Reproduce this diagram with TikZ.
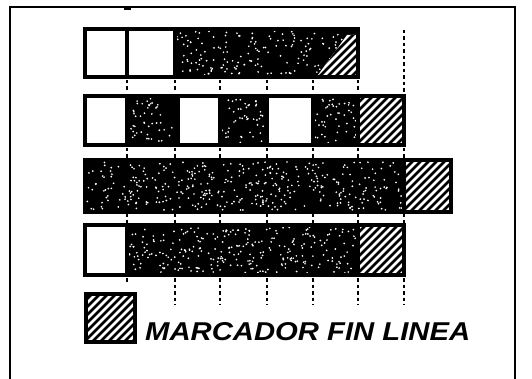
\documentclass[tikz,border=0pt]{standalone}
\usepackage{fontspec}
\setsansfont{Liberation Sans}
\begin{document}
\begin{tikzpicture}[x=1pt,y=-1pt,
  frame/.style={draw=black,line width=2.2pt},
  whitecell/.style={draw=black,line width=3.2pt,fill=white},
  darkcell/.style={draw=black,line width=3.2pt,fill=black},
  outline/.style={draw=black,line width=3.2pt},
  stripe/.style={draw=black,line width=2.8pt},
  tickmark/.style={draw=black,line width=2pt,dash pattern=on 3.5pt off 3pt},
  legendtext/.style={inner sep=0pt,anchor=base west}]
\useasboundingbox (0,0) rectangle (532,379);
\newcommand{\stip}[5]{%
  \foreach \k in {1,...,#5}{%
    \pgfmathsetmacro{\xx}{#1+2+rnd*(#3-#1-4)}%
    \pgfmathsetmacro{\yy}{#2+2+rnd*(#4-#2-4)}%
    \fill[white] (\xx,\yy) circle (0.95pt);}}
\newcommand{\hatchbox}[4]{%
  \fill[white] (#1,#2) rectangle (#3,#4);
  \begin{scope}
    \clip (#1,#2) rectangle (#3,#4);
    \foreach \d in {-60,-52,...,60}{\draw[stripe] (#1+\d,#4+2) -- (#1+\d+60,#4-58);}
  \end{scope}
  \draw[outline] (#1,#2) rectangle (#3,#4);}
\pgfmathsetseed{7}
% frame
\draw[frame] (10,379) -- (10,7) -- (515,7) -- (515,379);
\draw[line width=1.5pt] (124,9) -- (131,9);
% row 1
\path[darkcell] (175,29) rectangle (358,77);
\stip{175}{29}{358}{77}{170}
\fill[white] (318,75) -- (347,35) -- (356,35) -- (356,75) -- cycle;
\begin{scope}
  \clip (318,75) -- (347,35) -- (356,35) -- (356,75) -- cycle;
  \foreach \d in {-60,-52,...,60}{\draw[stripe] (313+\d,79) -- (313+\d+60,19);}
\end{scope}
\path[whitecell] (85,29) rectangle (127,77);
\path[whitecell] (127,29) rectangle (175,77);
\draw[outline] (175,29) rectangle (358,77);
% row 2
\path[darkcell] (127,96) rectangle (175,145);
\stip{127}{96}{175}{145}{45}
\path[darkcell] (220,96) rectangle (267,145);
\stip{220}{96}{267}{145}{45}
\path[darkcell] (313,96) rectangle (358,145);
\stip{313}{96}{358}{145}{45}
\path[whitecell] (85,96) rectangle (127,145);
\path[whitecell] (178,96) rectangle (220,145);
\path[whitecell] (267,96) rectangle (313,145);
\hatchbox{358}{96}{404}{145}
\draw[outline] (85,96) rectangle (404,145);
% row 3
\path[darkcell] (85,160) rectangle (404,212);
\stip{85}{160}{404}{212}{380}
\hatchbox{404}{160}{451}{212}
% row 4
\path[darkcell] (127,225) rectangle (358,275);
\stip{127}{225}{358}{275}{270}
\path[whitecell] (85,225) rectangle (127,275);
\hatchbox{358}{225}{404}{275}
\draw[outline] (85,225) rectangle (404,275);
% tick marks
\draw[tickmark] (404,30) -- (404,93);
\foreach \x in {127,175,220,267,313,358}{\draw[tickmark] (\x,80) -- (\x,93);}
\foreach \x in {127,175,220,267,313,358,404}{\draw[tickmark] (\x,148) -- (\x,158);}
\foreach \x in {127,175,220,267,313,358,404}{\draw[tickmark] (\x,214) -- (\x,224);}
\draw[tickmark] (127,278) -- (127,284);
\foreach \x in {175,220,267,313,358,404}{\draw[tickmark] (\x,278) -- (\x,305);}
% legend
\hatchbox{86}{294}{135}{342}
\node[legendtext] (legend) at (145,340)
  {\resizebox{325pt}{18pt}{\sffamily\bfseries\itshape MARCADOR FIN LINEA}};
\end{tikzpicture}
\end{document}
